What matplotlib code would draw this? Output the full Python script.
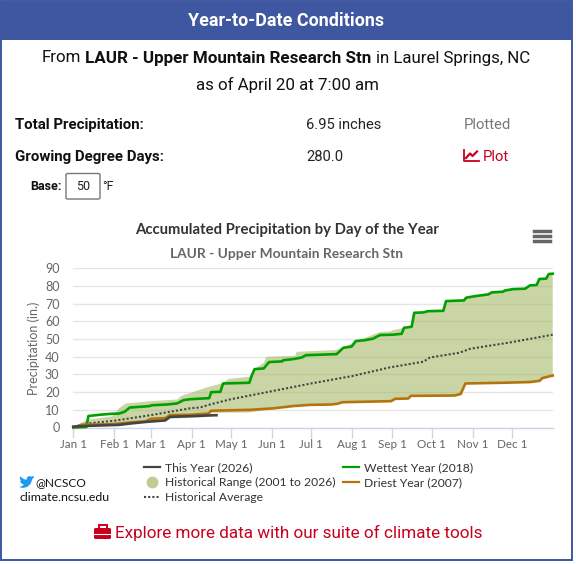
import matplotlib
matplotlib.use("Agg")
import matplotlib.pyplot as plt
from matplotlib.patches import Rectangle, FancyBboxPatch, Polygon
from matplotlib.lines import Line2D

# day of year, inches
wet_days = [0, 10, 11.5, 20, 28, 35, 39, 43, 51, 58, 60, 71, 79, 84, 89, 103.5, 105, 112, 114, 134, 136, 138, 145, 149,
            159, 160, 167.5, 174, 177, 200.5, 205.6, 212, 215, 222, 228, 233.5, 243.6, 250, 251.8, 257.6, 259.6, 266.5,
            270, 281.7, 283.8, 297.5, 299, 305.8, 316, 318.5, 327, 328.7, 335, 344, 347.7, 352.8, 354.8, 360, 362, 365]
wet_vals = [0, 0.3, 6.5, 7.2, 7.7, 7.9, 8.9, 11.3, 11.7, 12.1, 12.6, 13, 13.6, 15.5, 16, 16.6, 20, 20.2, 24.9, 25.3, 29.6,
            33, 33.4, 37, 37.4, 38.1, 38.7, 39.6, 40.9, 41.5, 45.1, 45.8, 48.9, 49.4, 50.2, 52.3, 52.5, 53, 56.4, 57,
            64.9, 65.1, 65.8, 66, 71.5, 71.9, 73.4, 74.3, 75.3, 76.4, 76.8, 77.5, 78.3, 78.5, 80.4, 80.6, 84, 84.2, 86.8, 87]

dry_days = [0, 6, 30, 45, 55, 59, 70, 73.6, 89, 103, 105, 134.5, 152, 167, 180, 196, 201, 205, 242, 245, 255, 257, 290.6,
            295, 298.5, 327, 347.7, 355, 357, 365]
dry_vals = [0, 1.5, 1.9, 3, 3.5, 4.9, 5.3, 7, 7.2, 7.9, 9.5, 10, 10.8, 12.1, 12.8, 13, 13.4, 14.3, 14.9, 16.2, 16.4, 17.9,
            18.1, 19, 24.9, 25.3, 25.7, 26.4, 27.9, 29.4]

avg_days = [0, 10, 31, 59, 90, 96.5, 104, 120, 151.6, 181, 213, 241, 266.5, 271.6, 294, 302, 334, 365]
avg_vals = [0, 2.2, 3.8, 7, 11, 11.3, 13, 16, 20.6, 24.9, 29.2, 34, 37.2, 39.6, 42.3, 44.5, 48.3, 52.5]

this_days = [0, 10, 35, 44, 56, 70, 73.6, 89, 108, 109]
this_vals = [0.5, 0.9, 1.5, 2.3, 3.2, 4, 6, 6.4, 6.95, 6.95]

upper_days = [0, 10, 30, 35, 40, 61, 79, 82.5, 103, 113, 118, 134, 138.5, 145, 147, 169, 170, 200, 205.6, 216, 233.5,
              241, 243.6, 251.8, 257.6, 259.6, 266.5, 270, 281.7, 283.8, 297.5, 299, 305.8, 316, 318.5, 327, 328.7, 335,
              344, 347.7, 352.8, 354.8, 360, 362, 365]
upper_vals = [0, 4.2, 6.4, 11, 13.6, 15, 15.8, 17.9, 23, 24.9, 27.4, 28.7, 33.4, 36.6, 40, 40.6, 42.8, 43.8, 45.3, 49, 54,
              54.3, 55.1, 56.4, 57, 64.9, 65.1, 65.8, 66, 71.5, 71.9, 73.4, 74.3, 75.3, 76.4, 76.8, 77.5, 78.3, 78.5, 80.4,
              80.6, 84, 84.2, 86.8, 87]

lower_days = [0, 30, 45, 61, 73.6, 86, 96.5, 101.5, 104, 134.5, 151, 167, 180, 196, 201, 205, 242, 245, 255, 257, 290.6,
              295, 298.5, 327, 347.7, 355, 357, 365]
lower_vals = [0, 1.3, 2.3, 3.8, 5.1, 5.3, 5.7, 6, 8.3, 8.5, 10.4, 12.1, 12.8, 13, 13.4, 14.3, 14.9, 16.2, 16.4, 17.9, 18.1,
              19, 24.9, 25.3, 25.7, 26.4, 27.9, 29.4]

month_days = [0, 31, 59, 90, 120, 151, 181, 212, 243, 273, 304, 334]
month_labels = ["Jan 1", "Feb 1", "Mar 1", "Apr 1", "May 1", "Jun 1", "Jul 1", "Aug 1", "Sep 1", "Oct 1", "Nov 1", "Dec 1"]
y_ticks = [0, 10, 20, 30, 40, 50, 60, 70, 80, 90]

W, H = 576, 564
BLUE = "#3f57a0"
RED = "#c8001e"
GREEN = "#00a000"
ORANGE = "#b5730c"
DARK = "#444444"
RANGE = "#9db35a"
ROBOTO = "Roboto"
LATO = "Lato"
DOTS = (0, (1, 1))

fig = plt.figure(figsize=(W / 100, H / 100), dpi=100, facecolor="white")

# page layer in pixel coordinates
bg = fig.add_axes([0, 0, 1, 1])
bg.set_xlim(0, W)
bg.set_ylim(H, 0)
bg.axis("off")

bg.add_patch(Rectangle((1, 1), 570.5, 559, fill=False, ec=BLUE, lw=1.4))
bg.add_patch(Rectangle((0, 1), 572, 39, fc=BLUE, ec="none"))
bg.text(286.5, 21, "Year-to-Date Conditions", color="white", fontsize=12.9, fontweight="bold", family=ROBOTO,
        ha="center", va="center")

bg.text(42, 58, "From", fontsize=12.2, family=ROBOTO, va="center", color="#111111")
bg.text(85, 58, "LAUR - Upper Mountain Research Stn", fontsize=12.25, fontweight="bold", family=ROBOTO, va="center",
        color="#111111")
bg.text(376.5, 58, "in Laurel Springs, NC", fontsize=12.2, family=ROBOTO, va="center", color="#111111")
bg.text(287, 85, "as of April 20 at 7:00 am", fontsize=12.2, family=ROBOTO, ha="center", va="center", color="#111111")

bg.text(15, 125, "Total Precipitation:", fontsize=10.85, fontweight="bold", family=ROBOTO, va="center", color="#111111")
bg.text(15, 157, "Growing Degree Days:", fontsize=10.85, fontweight="bold", family=ROBOTO, va="center", color="#111111")
bg.text(306, 125, "6.95 inches", fontsize=10.6, family=ROBOTO, va="center", color="#222222")
bg.text(306, 157, "280.0", fontsize=10.6, family=ROBOTO, va="center", color="#222222")
bg.text(464, 125, "Plotted", fontsize=10.7, family=ROBOTO, va="center", color="#777777")
bg.text(483, 157, "Plot", fontsize=10.7, family=ROBOTO, va="center", color=RED)

# small chart icon next to Plot
bg.add_line(Line2D([464, 464, 479], [150, 161, 161], color=RED, lw=1.3))
bg.add_line(Line2D([466, 470, 472.5, 477], [158, 153.5, 156, 151.5], color=RED, lw=1.6))

bg.text(30, 186.5, "Base:", fontsize=9, fontweight="bold", family=ROBOTO, va="center", color="#111111")
bg.add_patch(FancyBboxPatch((66, 173.5), 34, 25.5, boxstyle="round,pad=0,rounding_size=1.5", fc="white", ec="#777777", lw=1))
bg.text(83.5, 186.5, "50", fontsize=9, family=ROBOTO, ha="center", va="center", color="#222222")
bg.text(102, 186.5, "°F", fontsize=9, family=ROBOTO, va="center", color="#222222")

# chart titles and menu
bg.text(287.5, 230, "Accumulated Precipitation by Day of the Year", fontsize=10.7, fontweight="bold", family=LATO,
        ha="center", va="center", color="#333333")
bg.text(287, 254, "LAUR - Upper Mountain Research Stn", fontsize=9.9, fontweight="bold", family=LATO,
        ha="center", va="center", color="#666666")
for yy in [230.5, 235.5, 240.5]:
    bg.add_line(Line2D([534, 550], [yy, yy], color="#666666", lw=2.5))

# the chart itself
left, right, top, bottom = 73.3, 552.7, 268.4, 427.5
ax = fig.add_axes([left / W, 1 - bottom / H, (right - left) / W, (bottom - top) / H])
ax.patch.set_alpha(0)
ax.set_xlim(0, 365)
ax.set_ylim(0, 90)
for s in ["top", "right", "left"]:
    ax.spines[s].set_visible(False)
ax.spines["bottom"].set_color("#ccd6eb")
ax.spines["bottom"].set_linewidth(1)
ax.set_yticks(y_ticks)
ax.grid(axis="y", color="#e6e6e6", lw=1)
ax.set_axisbelow(True)
ax.tick_params(axis="y", length=0, pad=10, labelsize=9, labelcolor="#666666")
ax.set_xticks(month_days)
ax.set_xticklabels(month_labels)
ax.tick_params(axis="x", length=7, width=1, color="#ccd6eb", pad=1, labelsize=8.4, labelcolor="#666666")
for lab in ax.get_xticklabels() + ax.get_yticklabels():
    lab.set_family(LATO)
ax.set_ylabel("Precipitation (in.)", fontsize=9, color="#666666", family=LATO, labelpad=3.5)

# upper and lower edges are on different day grids, so draw them as one polygon
ax.fill(upper_days + lower_days[::-1], upper_vals + lower_vals[::-1], color=RANGE, alpha=0.55, lw=0, zorder=2)
ax.plot(avg_days, avg_vals, color=DARK, lw=1.5, ls=DOTS, zorder=3, clip_on=False)
ax.plot(wet_days, wet_vals, color=GREEN, lw=1.9, zorder=4, clip_on=False)
ax.plot(dry_days, dry_vals, color=ORANGE, lw=1.9, zorder=4, clip_on=False)
ax.plot(this_days, this_vals, color=DARK, lw=1.9, zorder=5, clip_on=False)

# legend
leg_rows = [467, 482, 497]
bg.add_line(Line2D([143.5, 160], [leg_rows[0]] * 2, color=DARK, lw=1.6))
bg.plot([151.5], [leg_rows[1]], "o", color=RANGE, alpha=0.65, ms=8.5, mew=0)
bg.add_line(Line2D([143.5, 160], [leg_rows[2]] * 2, color=DARK, lw=1.5, ls=DOTS))
bg.add_line(Line2D([343, 359], [leg_rows[0]] * 2, color=GREEN, lw=1.6))
bg.add_line(Line2D([343, 359], [leg_rows[1]] * 2, color=ORANGE, lw=1.6))
legend_left = ["This Year (2026)", "Historical Range (2001 to 2026)", "Historical Average"]
legend_right = ["Wettest Year (2018)", "Driest Year (2007)"]
for yy, txt in zip(leg_rows, legend_left):
    bg.text(165, yy + 0.3, txt, fontsize=8.7, family=LATO, va="center", color="#333333")
for yy, txt in zip(leg_rows, legend_right):
    bg.text(363.5, yy + 0.3, txt, fontsize=8.7, family=LATO, va="center", color="#333333")

# twitter bird, rough shape
bird = [[34, 477.5], [32.5, 478.6], [31.8, 480.5], [30.5, 484], [27, 487], [23, 488], [19, 487], [22, 486.2],
        [23.8, 484.8], [21, 483], [20, 481], [21, 480.8], [19.8, 478.5], [20, 476.3], [24, 479.2], [26.5, 479.8],
        [27, 477.5], [29, 476], [31.5, 476.6], [33.5, 476]]
bg.add_patch(Polygon(bird, fc="#1d9bf0", ec="none"))
bg.text(35, 483, "@NCSCO", fontsize=8.6, family=LATO, va="center", color="#111111")
bg.text(19, 497.5, "climate.ncsu.edu", fontsize=8.9, family=LATO, va="center", color="#111111")

# toolbox icon and link
bg.add_patch(FancyBboxPatch((94, 528), 17, 11, boxstyle="round,pad=0,rounding_size=1.5", fc=RED, ec="none"))
bg.add_patch(Rectangle((98.5, 524.5), 8, 4, fill=False, ec=RED, lw=1.4))
bg.add_line(Line2D([94, 111], [533.5, 533.5], color="white", lw=0.8))
bg.text(115, 533, "Explore more data with our suite of climate tools", fontsize=12.3, family=ROBOTO, va="center",
        color=RED)

fig.savefig("out.png", dpi=100)
